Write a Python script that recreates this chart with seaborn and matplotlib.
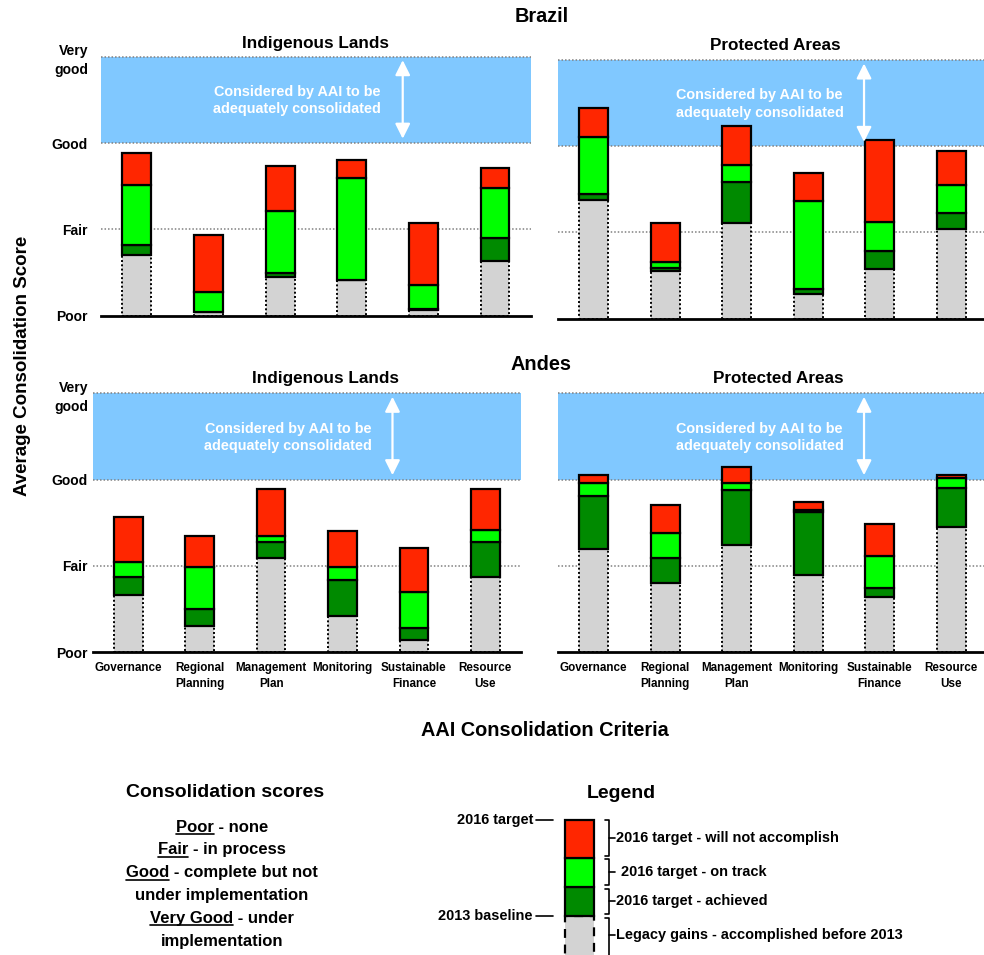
import numpy as np
import matplotlib
matplotlib.use("Agg")
import matplotlib.pyplot as plt
import seaborn as sns
from matplotlib import font_manager
from matplotlib.lines import Line2D

# ---------------- data ----------------
categories = ["Governance", "Regional\nPlanning", "Management\nPlan",
              "Monitoring", "Sustainable\nFinance", "Resource\nUse"]
score_values = [0, 1, 2, 3]
score_labels = ["Poor", "Fair", "Good", "Very\ngood"]

# cumulative top of each segment (0 = Poor, 1 = Fair, 2 = Good, 3 = Very good)
brazil_il_baseline = [0.70, 0.04, 0.45, 0.41, 0.07, 0.63]
brazil_il_achieved = [0.82, 0.04, 0.50, 0.41, 0.08, 0.90]
brazil_il_on_track = [1.51, 0.27, 1.21, 1.59, 0.36, 1.48]
brazil_il_target = [1.88, 0.93, 1.73, 1.80, 1.07, 1.71]

brazil_pa_baseline = [1.38, 0.55, 1.11, 0.29, 0.58, 1.04]
brazil_pa_achieved = [1.45, 0.59, 1.59, 0.34, 0.79, 1.22]
brazil_pa_on_track = [2.11, 0.66, 1.78, 1.36, 1.12, 1.55]
brazil_pa_target = [2.44, 1.11, 2.23, 1.69, 2.07, 1.94]

andes_il_baseline = [0.66, 0.30, 1.09, 0.42, 0.14, 0.87]
andes_il_achieved = [0.87, 0.50, 1.28, 0.84, 0.28, 1.27]
andes_il_on_track = [1.04, 0.99, 1.34, 0.99, 0.69, 1.42]
andes_il_target = [1.56, 1.35, 1.89, 1.40, 1.21, 1.89]

andes_pa_baseline = [1.20, 0.80, 1.24, 0.89, 0.64, 1.45]
andes_pa_achieved = [1.81, 1.09, 1.88, 1.62, 0.74, 1.90]
andes_pa_on_track = [1.96, 1.38, 1.96, 1.65, 1.11, 2.02]
andes_pa_target = [2.05, 1.71, 2.15, 1.74, 1.49, 2.05]

legend_labels = ["Legacy gains - accomplished before 2013",
                 "2016 target - achieved",
                 "2016 target - on track",
                 "2016 target - will not accomplish"]
legend_levels = [-1.0, 1.30, 2.26, 3.24, 4.50]   # illustrative legend bar

score_lines = [("Poor", " - none"), ("Fair", " - in process"),
               ("Good", " - complete but not"), ("", "under implementation"),
               ("Very Good", " - under"), ("", "implementation")]

# ---------------- style ----------------
sns.set_style("white")
names = {f.name for f in font_manager.fontManager.ttflist}
HAS_NARROW = "Liberation Sans Narrow" in names
NARROW = ["Liberation Sans Narrow", "Liberation Sans", "DejaVu Sans"]
REG = ["Liberation Sans", "DejaVu Sans"]
plt.rcParams["font.family"] = REG
plt.rcParams["text.color"] = "black"
plt.rcParams["axes.labelcolor"] = "black"
plt.rcParams["xtick.color"] = "black"
plt.rcParams["ytick.color"] = "black"


def ns(s):
    return s if HAS_NARROW else s * 0.85


C_GREY = "#D3D3D3"
C_DARK = "#008A00"
C_LIGHT = "#00FF00"
C_RED = "#FF2600"
C_BAND = "#80C8FF"
seg_colors = [C_GREY, C_DARK, C_LIGHT, C_RED]

W, H = 984, 955
fig = plt.figure(figsize=(W / 100, H / 100), dpi=100)


def fx(px):
    return px / W


def fy(py):
    return 1 - py / H


def add_ax(left, right, y0, y3):
    return fig.add_axes([fx(left), fy(y0), (right - left) / W, (y0 - y3) / H])


def draw_panel(ax, levels, show_y, ypad, show_x, text_x, arrow_x):
    ax.axhspan(2, 3, color=C_BAND, lw=0, zorder=0)
    for lv in [1, 2, 3]:
        ax.axhline(lv, color="#808080", ls=(0, (1, 1.3)), lw=1.1, zorder=0.6,
                   clip_on=False)
    cum = [np.zeros(len(categories))] + [np.asarray(l, float) for l in levels]
    for i in range(4):
        bottom = cum[i]
        height = cum[i + 1] - cum[i]
        if i == 0:
            ls, lw = (0, (1, 1.2)), 1.4
        else:
            ls, lw = "-", 1.6
        sns.barplot(x=categories, y=height, order=categories, bottom=bottom,
                    color=seg_colors[i], saturation=1, width=0.40,
                    edgecolor="black", linewidth=lw, linestyle=ls,
                    errorbar=None, ax=ax, zorder=2)
    ax.set_xlim(-0.5, len(categories) - 0.5)
    ax.set_ylim(0, 3)
    for s in ["left", "top", "right"]:
        ax.spines[s].set_visible(False)
    ax.spines["bottom"].set_color("black")
    ax.spines["bottom"].set_linewidth(2)
    ax.spines["bottom"].set_zorder(3)
    ax.set_xlabel("")
    ax.set_ylabel("")
    ax.set_yticks(score_values)
    if show_y:
        ax.set_yticklabels(score_labels, fontfamily=NARROW, fontsize=ns(11.8),
                           fontweight="bold", linespacing=1.45)
    else:
        ax.set_yticklabels([])
    ax.tick_params(axis="y", length=0, pad=ypad)
    if show_x:
        ax.set_xticks(range(len(categories)))
        ax.set_xticklabels(categories, fontfamily=NARROW, fontsize=ns(9.8),
                           fontweight="bold", linespacing=1.45)
        ax.tick_params(axis="x", length=0, pad=7.5)
    else:
        ax.tick_params(axis="x", length=0, labelbottom=False)
    ax.text(text_x, 2.49, "Considered by AAI to be\nadequately consolidated",
            ha="center", va="center", color="white", fontweight="bold",
            fontfamily=NARROW, fontsize=ns(12.2), linespacing=1.3, zorder=4)
    ax.annotate("", xy=(arrow_x, 2.05), xytext=(arrow_x, 2.96),
                arrowprops=dict(arrowstyle="<|-|>,head_length=0.5,head_width=0.25",
                                color="white", lw=1.6, mutation_scale=18,
                                shrinkA=0, shrinkB=0), zorder=4)


ax_tl = add_ax(101, 531, 315.7, 56.7)
ax_tr = add_ax(558, 987, 318.7, 60.0)
ax_bl = add_ax(92.6, 521, 652, 393.3)
ax_br = add_ax(558, 987, 652, 393.3)

draw_panel(ax_tl, [brazil_il_baseline, brazil_il_achieved, brazil_il_on_track, brazil_il_target],
           True, 9.4, False, 2.24, 3.71)
draw_panel(ax_tr, [brazil_pa_baseline, brazil_pa_achieved, brazil_pa_on_track, brazil_pa_target],
           False, 0, False, 2.32, 3.78)
draw_panel(ax_bl, [andes_il_baseline, andes_il_achieved, andes_il_on_track, andes_il_target],
           True, 3.3, True, 2.24, 3.70)
draw_panel(ax_br, [andes_pa_baseline, andes_pa_achieved, andes_pa_on_track, andes_pa_target],
           False, 0, True, 2.32, 3.78)


def ftext(px, py, s, size, fam=NARROW, **kw):
    kw.setdefault("ha", "center")
    kw.setdefault("va", "center")
    return fig.text(fx(px), fy(py), s, fontsize=size, fontfamily=fam,
                    fontweight="bold", color="black", **kw)


ftext(541.5, 16, "Brazil", ns(16.8))
ftext(541, 364, "Andes", ns(16.8))
ftext(315, 43, "Indigenous Lands", ns(14.5))
ftext(775, 45, "Protected Areas", ns(14.5))
ftext(326, 378.5, "Indigenous Lands", ns(14.5))
ftext(778, 378.5, "Protected Areas", ns(14.5))
ftext(23, 366, "Average Consolidation Score", 13.5, fam=REG, rotation=90)
ftext(545, 730, "AAI Consolidation Criteria", ns(16.8))

# ---------- consolidation scores block ----------
ftext(225.5, 792, "Consolidation scores", 14, fam=REG)
renderer = fig.canvas.get_renderer()
baselines = [831.5, 854, 877, 899.5, 922.5, 945.5]
cx = 222
for (word, rest), bl in zip(score_lines, baselines):
    full = ftext(cx, bl, word + rest, 12, fam=REG, va="baseline")
    if word:
        ext = full.get_window_extent(renderer)
        tmp = fig.text(0, 0, word, fontsize=12, fontfamily=REG, fontweight="bold")
        ww = tmp.get_window_extent(renderer).width
        tmp.remove()
        x0 = ext.x0
        fig.add_artist(Line2D([x0 / W, (x0 + ww) / W], [fy(bl + 2.5), fy(bl + 2.5)],
                              color="black", lw=1.2))

# ---------- legend block ----------
ftext(621, 793, "Legend", 14, fam=REG)
ax_leg = fig.add_axes([fx(420), 0, 564 / W, 150 / H])
bar_cx_px = 579.7


def lx(px):
    return (px - bar_cx_px) / 30.0


for i in range(4):
    lo, hi = legend_levels[i], legend_levels[i + 1]
    ls = (0, (4, 3)) if i == 0 else "-"
    sns.barplot(x=["Legend"], y=[hi - lo], bottom=[lo], color=seg_colors[i],
                saturation=1, width=0.98, edgecolor="black", linewidth=1.6,
                linestyle=ls, errorbar=None, ax=ax_leg)
ax_leg.set_xlim(lx(420), lx(984))
ax_leg.set_ylim(0, 5)
ax_leg.axis("off")

bx_v, bx_stub, bx_tick = lx(608.7), lx(605), lx(615)
for i in range(4):
    lo, hi = legend_levels[i], legend_levels[i + 1]
    top = hi - 0.05 if i < 3 else hi
    bot = lo + 0.07
    ax_leg.plot([bx_stub, bx_v, bx_v, bx_stub], [top, top, bot, bot],
                color="black", lw=1.2, clip_on=True)
    mid = (top + bot) / 2 if i > 0 else 0.67
    ax_leg.plot([bx_v, bx_tick], [mid, mid], color="black", lw=1.2)
    tx = lx(621) if i == 2 else lx(616)
    ax_leg.text(tx, mid, legend_labels[i], ha="left", va="center", color="black",
                fontfamily=NARROW, fontsize=ns(12.3), fontweight="bold")

for lab, yv in [("2016 target", legend_levels[4]), ("2013 baseline", legend_levels[1])]:
    ax_leg.text(lx(533), yv, lab, ha="right", va="center", fontfamily=NARROW,
                fontsize=ns(12.3), fontweight="bold", color="black")
    ax_leg.plot([lx(536), lx(553)], [yv, yv], color="black", lw=1.2)

fig.savefig("out.png", dpi=100)
